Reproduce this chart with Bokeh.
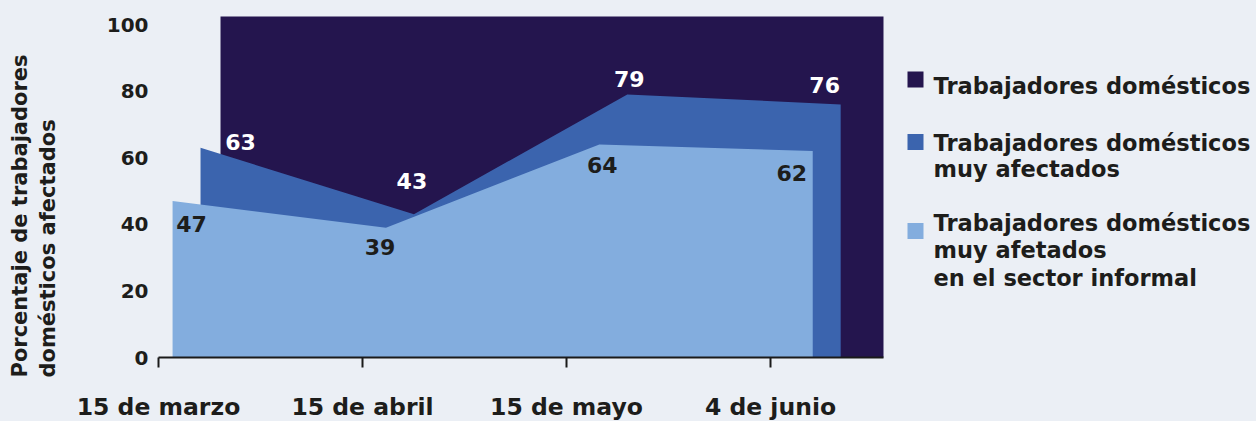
from math import pi
from bokeh.plotting import figure
from bokeh.models import Range1d, FixedTicker
from bokeh.core.properties import value
from bokeh.embed import file_html
from bokeh.resources import INLINE

# ---------------- data ----------------
categories = ["15 de marzo", "15 de abril", "15 de mayo", "4 de junio"]
series_names = [
    "Trabajadores domésticos",
    "Trabajadores domésticos\nmuy afectados",
    "Trabajadores domésticos\nmuy afetados\nen el sector informal",
]
total = [100, 100, 100, 100]
muy_afectados = [63, 43, 79, 76]
informal = [47, 39, 64, 62]
y_ticks = [0, 20, 40, 60, 80, 100]
y_title = ["Porcentaje de trabajadores", "domésticos afectados"]

# ---------------- styles / layout ----------------
BG = "#ebeff5"
C_DARK = "#24154e"
C_MED = "#3b64ae"
C_LIGHT = "#83adde"
TXT = "#1d1d1b"
FONT = "DejaVu Sans"

W, H = 1256, 421
PX_PER_CAT = 204.0
PX_PER_PCT = 3.33
PAGE_X0 = 158   # pixel where category axis starts
PAGE_Y0 = 357   # pixel of the 0 % baseline


def X(px):  # pixel -> category units
    return (px - PAGE_X0) / PX_PER_CAT


def Y(py):  # pixel -> percent units
    return (PAGE_Y0 - py) / PX_PER_PCT


# pseudo-3D depth placement of each series (category units)
DEPTH = {
    "dark": dict(start=0.304, step=1.0833, lift=2.4),
    "med": dict(start=0.206, step=1.046, lift=0.0),
    "light": dict(start=0.069, step=1.046, lift=0.0),
}


def xs_for(key, n):
    d = DEPTH[key]
    return [d["start"] + i * d["step"] for i in range(n)]


p = figure(
    width=W, height=H, output_backend="svg", toolbar_location=None,
    x_range=Range1d(X(0), X(W)),
    y_range=Range1d(Y(H), Y(0)),
    min_border_left=0, min_border_top=0, min_border_right=0, min_border_bottom=0,
    background_fill_color=BG, border_fill_color=BG, outline_line_color=None,
)
p.xgrid.visible = False
p.ygrid.visible = False

# areas (back to front)
n = len(categories)
xd = xs_for("dark", n)
p.varea(x=xd, y1=[0] * n, y2=[v + DEPTH["dark"]["lift"] for v in total], fill_color=C_DARK)
xm = xs_for("med", n)
p.varea(x=xm, y1=[0] * n, y2=muy_afectados, fill_color=C_MED)
xl = xs_for("light", n)
p.varea(x=xl, y1=[0] * n, y2=informal, fill_color=C_LIGHT)

# data labels (pixel nudges from the vertex; +y = down)
MED_NUDGE = [(40, -6), (-2, -33), (2, -15), (-16, -19)]
LIGHT_NUDGE = [(19, 23.5), (-6, 19), (3, 21), (-21, 21.5)]
p.text(
    x=[xm[i] + MED_NUDGE[i][0] / PX_PER_CAT for i in range(n)],
    y=[muy_afectados[i] - MED_NUDGE[i][1] / PX_PER_PCT for i in range(n)],
    text=[str(v) for v in muy_afectados],
    text_font=value(FONT), text_font_style="bold", text_font_size="22px",
    text_color="#ffffff", text_align="center", text_baseline="middle",
)
p.text(
    x=[xl[i] + LIGHT_NUDGE[i][0] / PX_PER_CAT for i in range(n)],
    y=[informal[i] - LIGHT_NUDGE[i][1] / PX_PER_PCT for i in range(n)],
    text=[str(v) for v in informal],
    text_font=value(FONT), text_font_style="bold", text_font_size="22px",
    text_color=TXT, text_align="center", text_baseline="middle",
)

# x axis drawn at y = 0 inside the frame
xa = p.xaxis[0]
xa.fixed_location = 0
xa.ticker = FixedTicker(ticks=list(range(n)))
xa.major_label_overrides = {i: c for i, c in enumerate(categories)}
xa.bounds = (0, X(883))
xa.axis_line_width = 2
xa.axis_line_color = "#1a1a1a"
xa.major_tick_in = 0
xa.major_tick_out = 10
xa.major_tick_line_width = 2
xa.major_tick_line_color = "#1a1a1a"
xa.minor_tick_line_color = None
xa.major_label_standoff = 25
xa.major_label_text_font = FONT
xa.major_label_text_font_style = "bold"
xa.major_label_text_font_size = "23.5px"
xa.major_label_text_color = TXT

# y axis drawn at x = 0 inside the frame
ya = p.yaxis[0]
ya.fixed_location = 0
ya.ticker = FixedTicker(ticks=y_ticks)
ya.axis_line_color = None
ya.major_tick_line_color = None
ya.minor_tick_line_color = None
ya.major_tick_in = 0
ya.major_tick_out = 0
ya.major_label_standoff = 10
ya.major_label_text_font = FONT
ya.major_label_text_font_style = "bold"
ya.major_label_text_font_size = "20px"
ya.major_label_text_color = TXT

# y title (two left-aligned rotated lines)
p.text(
    x=[X(19.5), X(47.5)], y=[Y(377)] * 2, text=y_title, angle=pi / 2,
    text_align="left", text_baseline="middle",
    text_font=value(FONT), text_font_style="bold", text_font_size="21px", text_color=TXT,
)

# legend
LEG_SQ = [79, 141.5, 230.5]
LEG_MID = [[85], [142, 168], [222.5, 249, 277]]
colors = [C_DARK, C_MED, C_LIGHT]
p.scatter(x=[X(915)] * 3, y=[Y(v) for v in LEG_SQ], marker="square", size=16,
          fill_color=colors, line_color=None)
lx, ly, lt = [], [], []
for name, mids in zip(series_names, LEG_MID):
    for line, m in zip(name.split("\n"), mids):
        lx.append(X(933))
        ly.append(Y(m))
        lt.append(line)
p.text(x=lx, y=ly, text=lt, text_font=value(FONT), text_font_style="bold",
       text_font_size="22.5px", text_color=TXT, text_align="left", text_baseline="middle")

html = file_html(p, INLINE)
html = html.replace("</head>", "<style>html,body{margin:0;padding:0;background:%s;}</style></head>" % BG, 1)
open("out.html", "w").write(html)
